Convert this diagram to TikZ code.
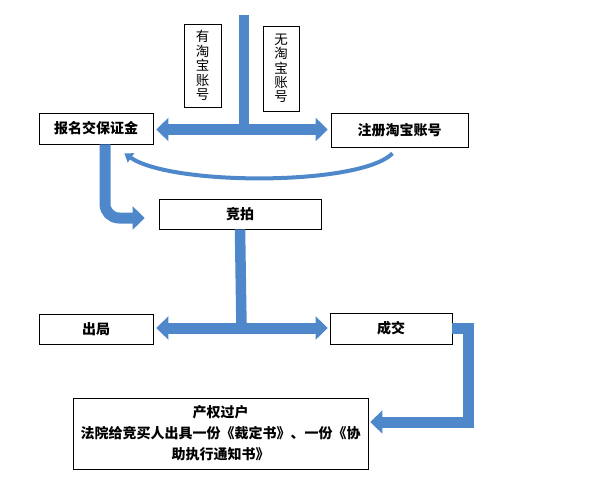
\documentclass[tikz,border=0pt]{standalone}
\usepackage{fontspec}
\newfontfamily\cjk{Noto Sans CJK SC}
\definecolor{arrowblue}{RGB}{79, 136, 202}
\usetikzlibrary{arrows.meta, positioning, calc}

\begin{document}
\begin{tikzpicture}[
  x=1pt, y=-1pt,
  flowbox/.style={draw, line width=0.8pt, inner sep=0pt, align=center, font=\cjk\bfseries\fontsize{14}{21}\selectfont},
  labelbox/.style={draw, line width=0.8pt, inner sep=0pt, align=center, font=\cjk\fontsize{13.5}{14.4}\selectfont},
  blockarrow/.style={draw=arrowblue, line width=11pt, line join=miter, -{Triangle[width=23pt, length=12pt]}},
  stemline/.style={draw=arrowblue, line width=10.5pt},
  curvearrow/.style={draw=arrowblue, line width=4pt, -{Triangle[width=11pt, length=8pt]}}
]
  \useasboundingbox (0,0) rectangle (593,484);

  % account choice
  \node[labelbox, minimum width=37pt, minimum height=83pt] (hasacc) at (202.5, 65.5) {有\\淘\\宝\\账\\号};
  \node[labelbox, minimum width=36pt, minimum height=85pt] (noacc) at (281, 68.5) {无\\淘\\宝\\账\\号};

  % main steps
  \node[flowbox, minimum width=114pt, minimum height=31pt] (baoming) at (96, 128.5) {报名交保证金};
  \node[flowbox, minimum width=137pt, minimum height=34pt] (zhuce) at (399.5, 130) {注册淘宝账号};
  \node[flowbox, minimum width=162pt, minimum height=30pt] (jingpai) at (240, 214) {竞拍};
  \node[flowbox, minimum width=114pt, minimum height=30pt] (chuju) at (96, 329) {出局};
  \node[flowbox, minimum width=122pt, minimum height=31pt] (chengjiao) at (391, 328.5) {成交};
  \node[flowbox, minimum width=295pt, minimum height=71pt] (guohu) at (220.5, 433.5) {产权过户\\法院给竞买人出具一份《裁定书》、一份《协\\助执行通知书》};

  % split points
  \coordinate (start) at (244, 15);
  \coordinate (split1) at (244, 129.5);
  \coordinate (split2) at (241.5, 328);
  \coordinate (bend) at (468.5, 422);

  % top split
  \draw[stemline] (start) -- (split1);
  \draw[blockarrow, shorten >=3pt] (split1) -- (split1 -| baoming.east);
  \draw[blockarrow, shorten >=3pt] (split1) -- (split1 -| zhuce.west);

  % back to baoming
  \draw[curvearrow] ($(zhuce.south)+(-7,6)$) .. controls (360,186) and (172,186) .. ($(baoming.south east)+(-29,9)$);

  % to auction
  \draw[blockarrow, rounded corners=14pt, shorten >=14pt] ([xshift=9pt]baoming.south) |- ([yshift=-4pt]jingpai.west);

  % auction split
  \draw[stemline] (jingpai.south) -- (split2);
  \draw[blockarrow, shorten >=3pt] (split2) -- (split2 -| chuju.east);
  \draw[blockarrow, shorten >=2pt] (split2) -- (split2 -| chengjiao.west);

  % transfer
  \draw[blockarrow, shorten >=2pt] (chengjiao.east) -| (bend) -- (bend -| guohu.east);
\end{tikzpicture}
\end{document}
